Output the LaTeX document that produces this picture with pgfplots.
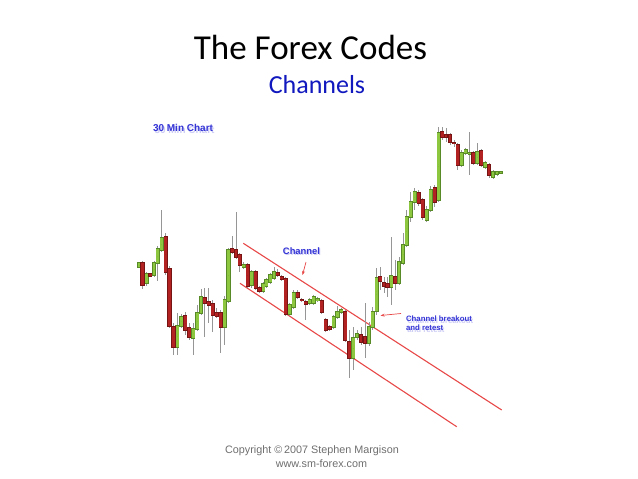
\documentclass[border=0pt]{standalone}
\usepackage{pgfplots}
\pgfplotsset{compat=1.18}
\usepackage{pgfplotstable}
\usepackage{fontspec}
\setmainfont{Liberation Sans}
\newfontfamily\calibri{Carlito}
\usetikzlibrary{arrows.meta}
\definecolor{gfill}{RGB}{141,198,63}
\definecolor{gline}{RGB}{88,138,40}
\definecolor{rfill}{RGB}{178,34,34}
\definecolor{rline}{RGB}{118,20,20}
\definecolor{wick}{RGB}{150,150,150}
\definecolor{chred}{RGB}{232,72,72}
\definecolor{lblue}{RGB}{52,52,214}
\definecolor{tblue}{RGB}{16,24,190}
\definecolor{cgray}{RGB}{110,110,110}

\pgfplotstableread{
x top bot hi lo
139 263 267 262 268
146.5 274 283 272 286
154 263 275 261 277
157.8 249 263 246 281
161.7 238 250 210 252
177.3 326 347 313 355
181.3 317 326 314 328
193.3 329 338 323 355
197.3 313 329 305 331
201 297 313 289 315
224.7 300 327 296 345
228.5 250 301 248 303
243.7 265 267 262 269
251.7 272 285 270 288
263.3 284 291 282 293
266.3 280 286 278 288
270.2 275 282 273 284
274 272 278 267 280
289.8 305 314 303 316
293.8 293 307 290 309
309.7 300 303 298 305
313.7 297 303 295 305
317.7 299 300.5 297 302
333.7 317 327 315 329
337.5 312 317 306 319
341.3 310 312 308 314
353.3 338 358 327 370
357 334 337 330 340
369 327 343 322 346
372.7 312 327 307 330
376.7 278 311 268 315
391.3 276 287 237 305
399 262 283 257 285
403 245 263 233 265
406.7 217 245 210 247
410.7 202 217 192 222
414.7 192 202 188 210
426.7 210 220 206 222
430.7 190 210 186 212
438.7 133 200 127 202
461.7 153 165 150 167
465.7 150 153 148 155
469.7 153 154 132 175
477.3 152 163 143 165
485.3 163 167 161 169
493 172 177 170 179
497 172 174 171 176
501 172 173 171 174
}\green

\pgfplotstableread{
x top bot hi lo
142.5 263 285 261 289
150.3 274 276 273 277
165.7 237 272 233 275
169.5 269 326 266 328
173.5 327 347 323 355
185.3 316 330 312 335
189.3 328 337 323 340
204.7 298 303 288 337
208.7 302 305 288 323
212.7 304 315 300 332
216.7 313 316 308 318
220.7 313 327 310 353
232.3 249 252 236 254
236 250 257 212 259
239.8 255 265 253 272
247.7 265 286 263 288
255.7 272 288 270 290
259.5 288 291 286 293
277.8 273 275 269 277
281.7 277 279 275 281
285.7 279 314 277 316
297.8 293 297 290 299
301.8 299.5 300.5 298 302
305.8 302 304 300 320
321.7 301 312 299 314
325.7 320 330 318 332
329.7 327 329 325 331
345.3 312 340 310 342
349.3 342 358 330 378
361 335 342 327 345
365 337 343 303 358
380.3 277 281 267 290
384 283 286 277 293
387.5 284 287 277 297
395.3 277 283 260 290
418.7 193 203 190 206
422.7 200 217 198 220
434.7 188 202 185 207
442.3 132 137 127 140
446 135 137 128 142
450 135 142 133 145
454 142.5 143.5 140 147
457.7 145 165 143 170
473.3 153 163 151 165
481.3 151 165 149 167
489 165 175 163 178
}\red

\begin{document}
\begin{tikzpicture}
\begin{axis}[
  scale only axis, width=638bp, height=479bp,
  xmin=0, xmax=638, ymin=0, ymax=479, y dir=reverse,
  hide axis, clip=false,
  wickplot/.style={only marks, mark=none, mark options={draw=none, fill=none, scale=0}, forget plot,
    error bars/.cd, y dir=both, y explicit, error mark=none,
    error bar style={draw=wick, solid, line width=0.8bp}},
  bodyplot/.style 2 args={only marks, mark=none, mark options={draw=none, fill=none, scale=0}, forget plot,
    error bars/.cd, y dir=both, y explicit, error mark=none,
    error bar style={draw=#1, solid, line width=#2}},
]
\path (axis cs:0,0) rectangle (axis cs:638,479);
% channel lines
\addplot[chred, line width=1.1bp, forget plot] coordinates {(243.3,243.3) (501.7,410)};
\addplot[chred, line width=1.1bp, forget plot] coordinates {(240,283.3) (456.7,426.7)};
% wicks
\addplot[wickplot] table[x=x, y expr={(\thisrow{hi}+\thisrow{lo})/2}, y error expr={(\thisrow{lo}-\thisrow{hi})/2}] \green;
\addplot[wickplot] table[x=x, y expr={(\thisrow{hi}+\thisrow{lo})/2}, y error expr={(\thisrow{lo}-\thisrow{hi})/2}] \red;
% bodies outline
\addplot[bodyplot={gline}{4.2bp}] table[x=x, y expr={(\thisrow{top}+\thisrow{bot})/2}, y error expr={(\thisrow{bot}-\thisrow{top})/2+0.6}] \green;
\addplot[bodyplot={rline}{4.2bp}] table[x=x, y expr={(\thisrow{top}+\thisrow{bot})/2}, y error expr={(\thisrow{bot}-\thisrow{top})/2+0.6}] \red;
% bodies fill
\addplot[bodyplot={gfill}{2.8bp}] table[x=x, y expr={(\thisrow{top}+\thisrow{bot})/2}, y error expr={(\thisrow{bot}-\thisrow{top})/2}] \green;
\addplot[bodyplot={rfill}{2.8bp}] table[x=x, y expr={(\thisrow{top}+\thisrow{bot})/2}, y error expr={(\thisrow{bot}-\thisrow{top})/2}] \red;
% arrows
\addplot[chred, line width=0.7bp, -{Stealth[length=4bp,width=3bp]}, forget plot] coordinates {(306,262) (302.5,275)};
\addplot[chred, line width=0.7bp, -{Stealth[length=4bp,width=3bp]}, forget plot] coordinates {(401,313.5) (380.5,315.5)};
% texts
\node[font=\calibri\fontsize{35bp}{40bp}\selectfont, text=black] at (axis cs:310.5,47) {The Forex Codes};
\node[font=\calibri\fontsize{26bp}{30bp}\selectfont, text=tblue] at (axis cs:317,85) {Channels};
\node[font=\bfseries\fontsize{10bp}{12bp}\selectfont, text=lblue!25, anchor=west] at (axis cs:151,129.5) {30 Min Chart};
\node[font=\bfseries\fontsize{10bp}{12bp}\selectfont, text=lblue, anchor=west] at (axis cs:149.5,128) {30 Min Chart};
\node[font=\bfseries\fontsize{9.4bp}{11bp}\selectfont, text=lblue!25] at (axis cs:302.5,252.5) {Channel};
\node[font=\bfseries\fontsize{9.4bp}{11bp}\selectfont, text=lblue] at (axis cs:301.5,251) {Channel};
\node[font=\bfseries\fontsize{7.8bp}{9.3bp}\selectfont, text=lblue!25, anchor=west, align=left] at (axis cs:403.8,325) {Channel breakout\\and retest};
\node[font=\bfseries\fontsize{7.8bp}{9.3bp}\selectfont, text=lblue, anchor=west, align=left] at (axis cs:402.5,323.5) {Channel breakout\\and retest};
\node[font=\fontsize{10.8bp}{13bp}\selectfont, text=cgray] at (axis cs:312,451) {Copyright \textcopyright\,2007 Stephen Margison};
\node[font=\fontsize{10.8bp}{13bp}\selectfont, text=cgray] at (axis cs:321.5,463.5) {www.sm-forex.com};
\end{axis}
\end{tikzpicture}
\end{document}
